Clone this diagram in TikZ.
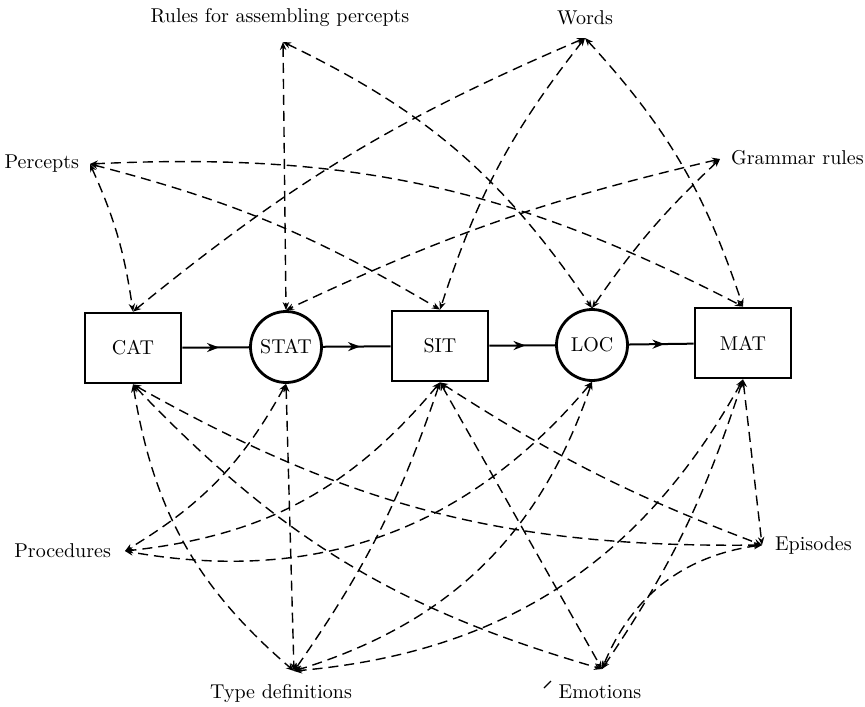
\documentclass[tikz,border=0pt]{standalone}
\usepackage{tikz}
\usetikzlibrary{arrows.meta,decorations.markings}
\tikzset{
  font={\fontsize{10pt}{12}\selectfont}}

\begin{document}
\begin{tikzpicture}[x=0.5pt,y=-0.5pt,
  concept/.style={draw,line width=1.4pt,minimum width=48pt,minimum height=35pt,inner sep=0pt},
  relation/.style={draw,circle,line width=1.4pt,minimum size=35.5pt,inner sep=0pt},
  link/.style={line width=0.7pt,dash pattern=on 5pt off 3pt,>={Stealth[length=4pt,width=3.2pt]},<->},
  flow/.style={line width=1pt,postaction={decorate},
    decoration={markings,mark=at position 0.55 with {\arrow{Stealth[length=6pt,width=4.5pt]}}}}]
\useasboundingbox (0,0) rectangle (865,706);
% concepts and relations
\node[concept] (cat) at (133,348) {CAT};
\node[relation] (stat) at (286,347) {STAT};
\node[concept] (sit) at (440,346) {SIT};
\node[relation] (loc) at (592,345) {LOC};
\node[concept] (mat) at (743,343) {MAT};
\draw[flow] (cat) -- (stat);
\draw[flow] (stat) -- (sit);
\draw[flow] (sit) -- (loc);
\draw[flow] (loc) -- (mat);
% sources
\node (rules) at (280,18) {Rules for assembling percepts};
\node (words) at (585,18) {Words};
\node[anchor=east] (percepts) at (86,164) {Percepts};
\node[anchor=west] (grammar) at (724,158) {Grammar rules};
\node[anchor=east] (procs) at (118,551) {Procedures};
\node[anchor=west] (episodes) at (768,545) {Episodes};
\node (typedefs) at (281,693) {Type definitions};
\node (emotions) at (600,692) {Emotions};
\coordinate (rules-tip) at (283,42);
\coordinate (words-tip) at (585,38);
\coordinate (percepts-tip) at (90,164);
\coordinate (grammar-tip) at (720,159);
\coordinate (procs-tip) at (125,551);
\coordinate (episodes-tip) at (762,545);
\coordinate (typedefs-tip) at (294,671);
\coordinate (emotions-tip) at (602,669);
% upper links
\draw[link] (percepts-tip) to[bend left=8] (cat.north);
\draw[link] (percepts-tip) to[bend left=8] (sit.north);
\draw[link] (percepts-tip) to[bend left=15] (mat.north);
\draw[link] (words-tip) to[bend right=8] (cat.north);
\draw[link] (words-tip) to[bend right=10] (sit.north);
\draw[link] (words-tip) to[bend left=12] (mat.north);
\draw[link] (rules-tip) -- (stat.north);
\draw[link] (rules-tip) to[bend left=15] (loc.north);
\draw[link] (grammar-tip) to[bend right=6] (stat.north);
\draw[link] (grammar-tip) to[bend right=6] (loc.north);
% lower links
\draw[link] (cat.south) to[bend right=20] (typedefs-tip);
\draw[link] (cat.south) to[bend right=15] (emotions-tip);
\draw[link] (cat.south) to[bend right=15] (episodes-tip);
\draw[link] (stat.south) to[bend left=15] (procs-tip);
\draw[link] (stat.south) -- (typedefs-tip);
\draw[link] (sit.south) to[bend left=22] (procs-tip);
\draw[link] (sit.south) to[bend left=8] (typedefs-tip);
\draw[link] (sit.south) -- (emotions-tip);
\draw[link] (sit.south) to[bend right=6] (episodes-tip);
\draw[link] (loc.south) to[bend left=30] (procs-tip);
\draw[link] (loc.south) to[bend left=27] (typedefs-tip);
\draw[link] (mat.south) -- (episodes-tip);
\draw[link] (mat.south) to[bend left=8] (emotions-tip);
\draw[link] (mat.south) to[bend left=28] (typedefs-tip);
\draw[link] (episodes-tip) to[bend right=30] (emotions-tip);
\draw[line width=0.6pt] (544,688) -- (551,681);
\end{tikzpicture}
\end{document}
